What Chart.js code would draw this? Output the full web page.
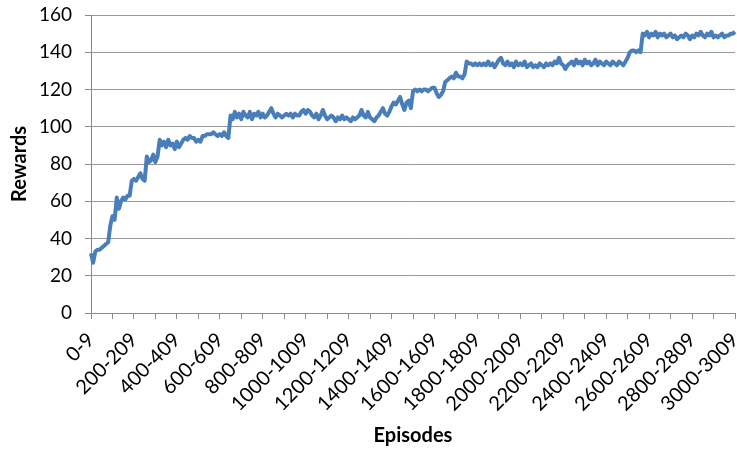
<!DOCTYPE html>
<html>
<head>
<meta charset="utf-8">
<script src="https://cdn.jsdelivr.net/npm/chart.js@4.4.1/dist/chart.umd.min.js"></script>
<style>
  body { margin: 0; background: #fff; }
  canvas { display: block; }
</style>
</head>
<body>
<canvas id="rewardsChart" width="737" height="451"></canvas>
<script>
/* Rewards per block of 10 episodes */

// categories: "0-9", "10-19", ... "3000-3009"
const episodes = [];
for (let i = 0; i <= 300; i++) {
  episodes.push((i * 10) + '-' + (i * 10 + 9));
}

// values, one per category
const rewards = [
  32, 27, 33, 34, 34, 35, 36, 37, 38, 47, 52, 50, 62, 56, 60, 62, 61, 63, 63, 71,
  72, 71, 73, 75, 72, 71, 84, 81, 82, 85, 81, 84, 93, 90, 92, 89, 93, 90, 91, 88,
  92, 89, 91, 93, 94, 93, 95, 94, 94, 92, 93, 92, 95, 95, 96, 96, 96, 97, 96, 95,
  96, 95, 97, 95, 94, 106, 104, 108, 105, 107, 104, 108, 106, 105, 108, 104, 107, 106, 108, 105,
  107, 105, 106, 108, 110, 107, 105, 107, 106, 105, 106, 107, 106, 107, 105, 107, 106, 106, 108, 109,
  107, 109, 108, 106, 105, 107, 104, 106, 109, 106, 104, 105, 106, 105, 103, 105, 104, 106, 104, 105,
  104, 103, 105, 104, 105, 106, 109, 106, 105, 108, 105, 104, 103, 105, 106, 108, 110, 107, 106, 108,
  111, 113, 112, 114, 116, 112, 109, 113, 114, 110, 119, 120, 119, 120, 119, 120, 120, 119, 120, 121,
  121, 118, 116, 117, 119, 124, 125, 126, 127, 126, 129, 127, 127, 126, 128, 135, 134, 134, 133, 134,
  133, 134, 133, 134, 133, 135, 133, 134, 132, 134, 136, 137, 134, 133, 135, 133, 134, 132, 135, 133,
  134, 133, 135, 132, 133, 134, 132, 133, 132, 134, 133, 132, 134, 133, 134, 133, 135, 134, 137, 134,
  133, 131, 133, 134, 135, 133, 136, 134, 135, 133, 136, 134, 135, 133, 134, 136, 133, 135, 134, 133,
  135, 134, 133, 135, 134, 133, 135, 134, 133, 135, 137, 140, 141, 141, 140, 141, 140, 150, 149, 151,
  148, 150, 149, 151, 148, 150, 149, 150, 148, 149, 150, 148, 149, 147, 148, 149, 148, 150, 149, 147,
  149, 148, 150, 149, 151, 149, 148, 150, 149, 151, 148, 149, 148, 149, 150, 148, 149, 149, 150, 150,
  151
];

const labelEvery = 20;   // a text label every 20 categories
const markEvery = 10;    // a tick mark every 10 categories

const ctx = document.getElementById('rewardsChart').getContext('2d');
const rewardsChart = new Chart(ctx, {
  type: 'line',
  data: {
    labels: episodes,
    datasets: [{
      label: 'Rewards',
      data: rewards,
      borderColor: '#4a7ebb',
      borderWidth: 4,
      borderJoinStyle: 'round',
      pointRadius: 0,
      tension: 0,
      fill: false
    }]
  },
  options: {
    responsive: false,
    animation: false,
    layout: {
      padding: { left: 2, right: 0, top: 0, bottom: 0 }
    },
    plugins: {
      legend: { display: false },
      tooltip: { enabled: false }
    },
    scales: {
      x: {
        offset: false,
        afterFit: (s) => {
          s.height = 138;
          s.paddingLeft = 0;
          s.paddingRight = 2;
        },
        grid: {
          drawOnChartArea: false,
          offset: false,
          tickLength: 6,
          tickColor: (c) => (c.index % markEvery === 0 ? '#8a8a8a' : 'rgba(0,0,0,0)')
        },
        border: { color: '#8a8a8a' },
        ticks: {
          autoSkip: false,
          maxRotation: 45,
          minRotation: 45,
          padding: 9,
          color: '#000',
          font: { family: 'Lato', size: 20 },
          callback: (val, i) => (i % labelEvery === 0 ? episodes[i] : '')
        },
        title: {
          display: true,
          text: 'Episodes',
          color: '#000',
          font: { family: 'Lato', size: 20, weight: 'bold' },
          padding: { top: 12, bottom: 3 }
        }
      },
      y: {
        min: 0,
        max: 160,
        afterFit: (s) => {
          s.width = 89;
          s.paddingTop = 15;
          s.paddingBottom = 0;
        },
        grid: {
          color: '#9a9a9a',
          tickLength: 6,
          tickColor: '#8a8a8a'
        },
        border: { color: '#8a8a8a' },
        ticks: {
          stepSize: 20,
          padding: 13,
          color: '#000',
          font: { family: 'Lato', size: 19 }
        },
        title: {
          display: true,
          text: 'Rewards',
          color: '#000',
          font: { family: 'Lato', size: 20, weight: 'bold' },
          padding: { top: 6, bottom: 8 }
        }
      }
    }
  }
});
</script>
</body>
</html>
